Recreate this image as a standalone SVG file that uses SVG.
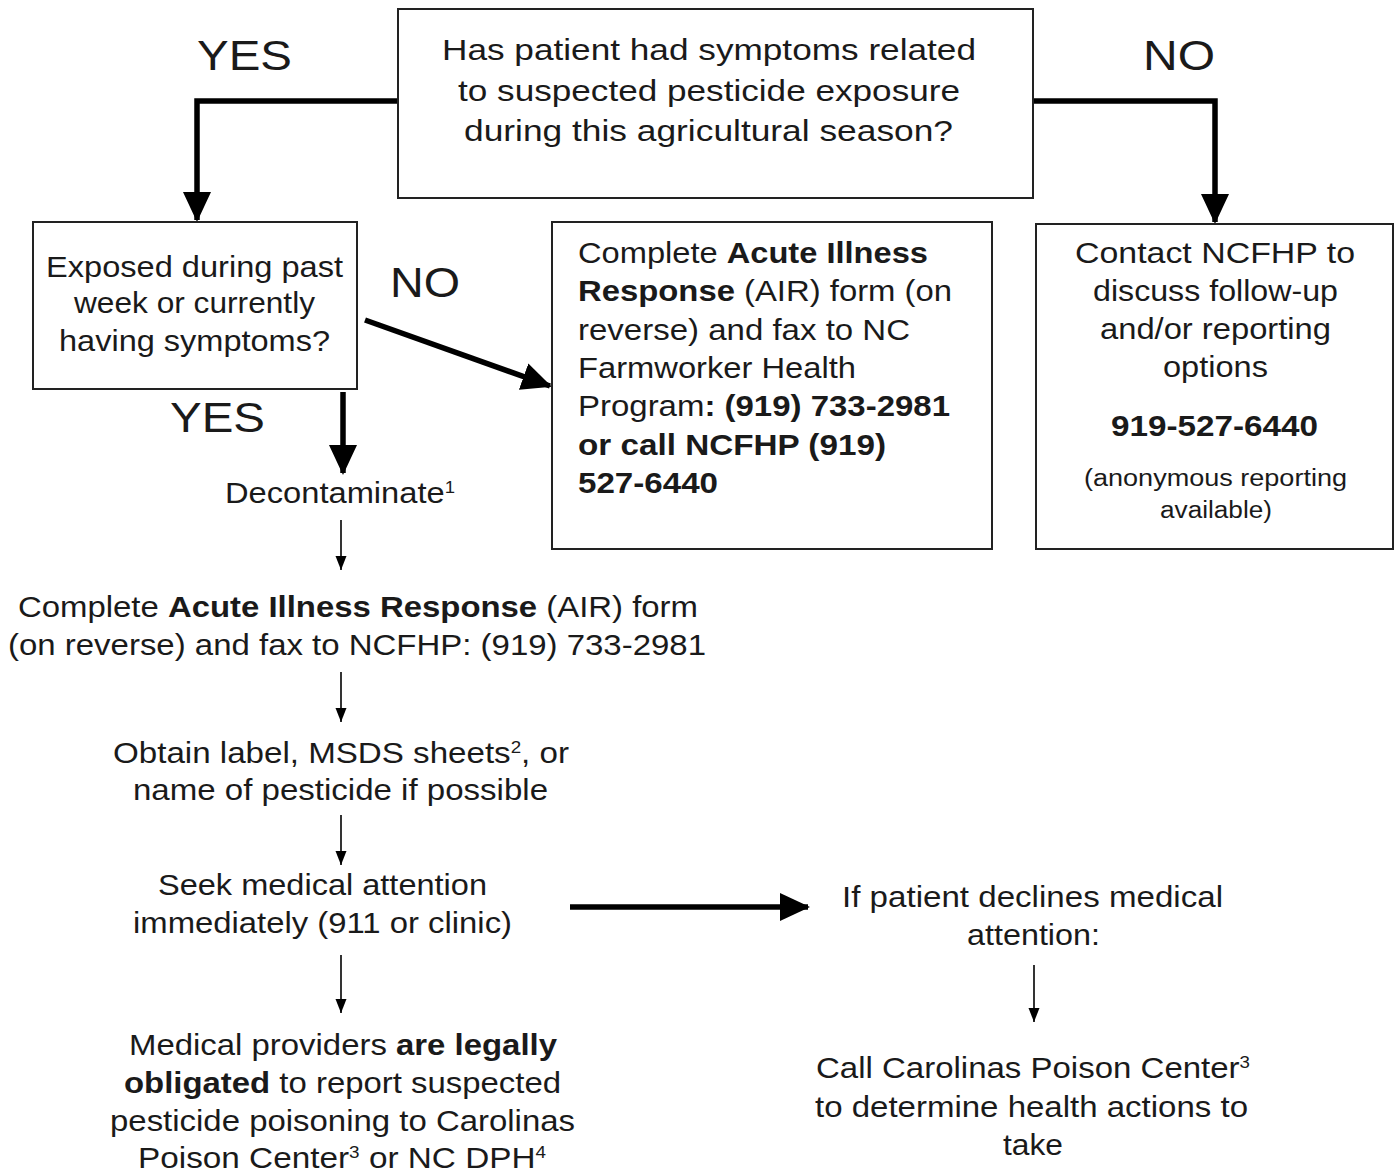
<svg xmlns="http://www.w3.org/2000/svg" width="1398" height="1174" viewBox="0 0 1398 1174">
<defs>
<style>
text{font-family:"Liberation Sans",Arial,sans-serif;fill:#1a1a1a;}
.t{font-size:30px;}
.lbl{font-size:42px;}
.b{font-weight:bold;}
.sm{font-size:23px;}
.sup{font-size:17px;}
.box{fill:#fff;stroke:#222;stroke-width:2;}
.thick{stroke:#000;stroke-width:5.5;fill:none;}
.thin{stroke:#000;stroke-width:1.6;fill:none;}
</style>
<marker id="big" markerUnits="userSpaceOnUse" markerWidth="30" markerHeight="30" refX="28" refY="14" orient="auto" viewBox="0 0 30 28">
<path d="M0,0 L30,14 L0,28 Z" fill="#000"/>
</marker>
<marker id="small" markerUnits="userSpaceOnUse" markerWidth="14" markerHeight="12" refX="14" refY="5.5" orient="auto" viewBox="0 0 14 11">
<path d="M0,0 L14,5.5 L0,11 Z" fill="#000"/>
</marker>
</defs>
<rect width="1398" height="1174" fill="#fff"/>

<g id="connectors">
<polyline class="thick" points="398,101 197,101 197,220" marker-end="url(#big)"/>
<polyline class="thick" points="1033,101 1215,101 1215,222" marker-end="url(#big)"/>
<line class="thick" x1="365" y1="320" x2="550" y2="386" marker-end="url(#big)"/>
<line class="thick" x1="343" y1="392" x2="343" y2="473" marker-end="url(#big)"/>
<line class="thick" x1="570" y1="907" x2="808" y2="907" marker-end="url(#big)"/>
<line class="thin" x1="341" y1="520" x2="341" y2="570" marker-end="url(#small)"/>
<line class="thin" x1="341" y1="672" x2="341" y2="722" marker-end="url(#small)"/>
<line class="thin" x1="341" y1="815" x2="341" y2="865" marker-end="url(#small)"/>
<line class="thin" x1="341" y1="955" x2="341" y2="1013" marker-end="url(#small)"/>
<line class="thin" x1="1034" y1="965" x2="1034" y2="1022" marker-end="url(#small)"/>
</g>

<g id="labels">
<text class="lbl" x="197" y="70" textLength="95" lengthAdjust="spacingAndGlyphs">YES</text>
<text class="lbl" x="1143" y="70" textLength="72" lengthAdjust="spacingAndGlyphs">NO</text>
<text class="lbl" x="390" y="297" textLength="70" lengthAdjust="spacingAndGlyphs">NO</text>
<text class="lbl" x="170" y="432" textLength="95" lengthAdjust="spacingAndGlyphs">YES</text>
</g>

<g id="q1">
<rect class="box" x="398" y="9" width="635" height="189"/>
<text class="t" x="442" y="60" textLength="534" lengthAdjust="spacingAndGlyphs">Has patient had symptoms related</text>
<text class="t" x="458" y="101" textLength="502" lengthAdjust="spacingAndGlyphs">to suspected pesticide exposure</text>
<text class="t" x="464" y="141" textLength="489" lengthAdjust="spacingAndGlyphs">during this agricultural season?</text>
</g>

<g id="q2">
<rect class="box" x="33" y="222" width="324" height="167"/>
<text class="t" x="46" y="277" textLength="297" lengthAdjust="spacingAndGlyphs">Exposed during past</text>
<text class="t" x="74" y="313" textLength="241" lengthAdjust="spacingAndGlyphs">week or currently</text>
<text class="t" x="59" y="351" textLength="271" lengthAdjust="spacingAndGlyphs">having symptoms?</text>
</g>

<g id="air-no">
<rect class="box" x="552" y="222" width="440" height="327"/>
<text class="t" x="578" y="263" textLength="350" lengthAdjust="spacingAndGlyphs">Complete <tspan class="b">Acute Illness</tspan></text>
<text class="t" x="578" y="301" textLength="374" lengthAdjust="spacingAndGlyphs"><tspan class="b">Response</tspan> (AIR) form (on</text>
<text class="t" x="578" y="340" textLength="332" lengthAdjust="spacingAndGlyphs">reverse) and fax to NC</text>
<text class="t" x="578" y="378" textLength="278" lengthAdjust="spacingAndGlyphs">Farmworker Health</text>
<text class="t" x="578" y="416" textLength="372" lengthAdjust="spacingAndGlyphs">Program<tspan class="b">: (919) 733-2981</tspan></text>
<text class="t b" x="578" y="455" textLength="308" lengthAdjust="spacingAndGlyphs">or call NCFHP (919)</text>
<text class="t b" x="578" y="493" textLength="140" lengthAdjust="spacingAndGlyphs">527-6440</text>
</g>

<g id="contact">
<rect class="box" x="1036" y="224" width="357" height="325"/>
<text class="t" x="1075" y="263" textLength="280" lengthAdjust="spacingAndGlyphs">Contact  NCFHP to</text>
<text class="t" x="1093" y="301" textLength="245" lengthAdjust="spacingAndGlyphs">discuss follow-up</text>
<text class="t" x="1100" y="339" textLength="231" lengthAdjust="spacingAndGlyphs">and/or reporting</text>
<text class="t" x="1163" y="377" textLength="105" lengthAdjust="spacingAndGlyphs">options</text>
<text class="t b" x="1111" y="436" textLength="207" lengthAdjust="spacingAndGlyphs">919-527-6440</text>
<text class="sm" x="1084" y="486" textLength="263" lengthAdjust="spacingAndGlyphs">(anonymous reporting</text>
<text class="sm" x="1160" y="518" textLength="112" lengthAdjust="spacingAndGlyphs">available)</text>
</g>

<g id="decon">
<text class="t" x="225" y="503" textLength="230" lengthAdjust="spacingAndGlyphs">Decontaminate<tspan class="sup" dy="-10">1</tspan></text>
</g>

<g id="air-yes">
<text class="t" x="18" y="617" textLength="680" lengthAdjust="spacingAndGlyphs">Complete <tspan class="b">Acute Illness Response</tspan> (AIR) form</text>
<text class="t" x="8" y="655" textLength="698" lengthAdjust="spacingAndGlyphs">(on reverse) and fax to NCFHP: (919) 733-2981</text>
</g>

<g id="obtain">
<text class="t" x="113" y="763" textLength="456" lengthAdjust="spacingAndGlyphs">Obtain label, MSDS sheets<tspan class="sup" dy="-10">2</tspan><tspan dy="10">, or</tspan></text>
<text class="t" x="133" y="800" textLength="415" lengthAdjust="spacingAndGlyphs">name of pesticide if possible</text>
</g>

<g id="seek">
<text class="t" x="158" y="895" textLength="329" lengthAdjust="spacingAndGlyphs">Seek medical attention</text>
<text class="t" x="133" y="933" textLength="379" lengthAdjust="spacingAndGlyphs">immediately (911 or clinic)</text>
</g>

<g id="providers">
<text class="t" x="129" y="1055" textLength="428" lengthAdjust="spacingAndGlyphs">Medical providers <tspan class="b">are legally</tspan></text>
<text class="t" x="124" y="1093" textLength="437" lengthAdjust="spacingAndGlyphs"><tspan class="b">obligated</tspan> to report suspected</text>
<text class="t" x="110" y="1131" textLength="465" lengthAdjust="spacingAndGlyphs">pesticide poisoning to Carolinas</text>
<text class="t" x="138" y="1168" textLength="408" lengthAdjust="spacingAndGlyphs">Poison Center<tspan class="sup" dy="-10">3</tspan><tspan dy="10"> or NC DPH</tspan><tspan class="sup" dy="-10">4</tspan></text>
</g>

<g id="declines">
<text class="t" x="842" y="907" textLength="381" lengthAdjust="spacingAndGlyphs">If patient declines medical</text>
<text class="t" x="967" y="945" textLength="133" lengthAdjust="spacingAndGlyphs">attention:</text>
</g>

<g id="poison">
<text class="t" x="816" y="1078" textLength="434" lengthAdjust="spacingAndGlyphs">Call Carolinas Poison Center<tspan class="sup" dy="-10">3</tspan></text>
<text class="t" x="815" y="1117" textLength="433" lengthAdjust="spacingAndGlyphs">to determine health actions to</text>
<text class="t" x="1003" y="1155" textLength="60" lengthAdjust="spacingAndGlyphs">take</text>
</g>
</svg>
